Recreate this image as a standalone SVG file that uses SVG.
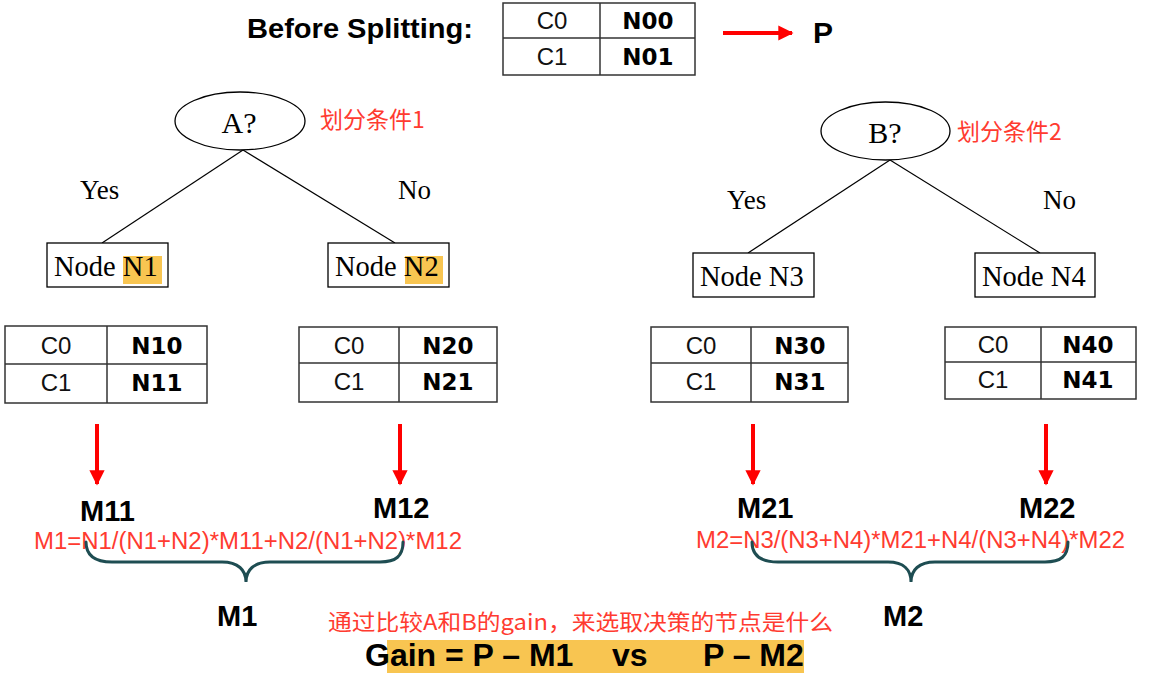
<svg xmlns="http://www.w3.org/2000/svg" width="1154" height="682" viewBox="0 0 1154 682">
<style>
.bg{fill:#ffffff}
.tbl{fill:#ffffff;stroke:#333333;stroke-width:1.5}
.tl{stroke:#333333;stroke-width:1.5}
.reg{font-family:"Liberation Sans",Arial,sans-serif;font-size:24px;fill:#111111;text-anchor:middle}
.bld{font-family:"DejaVu Sans",Verdana,sans-serif;font-weight:bold;font-size:23px;fill:#000000;text-anchor:middle}
.times{font-family:"Liberation Serif","Times New Roman",serif;fill:#000000}
.box{fill:#ffffff;stroke:#000000;stroke-width:1.3}
.ell{fill:#ffffff;stroke:#000000;stroke-width:1.3}
.edge{stroke:#000000;stroke-width:1.2;fill:none}
.redtxt{font-family:"Noto Sans CJK SC","Liberation Sans",sans-serif;fill:#ff3b30}
.formula{font-family:"Liberation Sans",Arial,sans-serif;font-size:23.5px;fill:#ff3b30}
.mlab{font-family:"Liberation Sans",Arial,sans-serif;font-weight:bold;font-size:29px;fill:#000000}
.big{font-family:"Liberation Sans",Arial,sans-serif;font-weight:bold;fill:#000000}
.brace{fill:none;stroke:#1e4d52;stroke-width:3;stroke-linecap:round}
.hl{fill:#f8c551}
</style>
<defs>
<marker id="ah" viewBox="0 0 10 10" refX="9" refY="5" markerWidth="3.8" markerHeight="3.8" orient="auto" markerUnits="strokeWidth">
<path d="M0,0 L10,5 L0,10 Z" fill="#ff0000"/>
</marker>
</defs>
<rect class="bg" x="0" y="0" width="1154" height="682"/>

<g id="before">
<text class="big" x="247" y="38" font-size="28" textLength="226" lengthAdjust="spacingAndGlyphs">Before Splitting:</text>
<rect class="tbl" x="503" y="3" width="192" height="72"/>
<line class="tl" x1="503" y1="38" x2="695" y2="38"/>
<line class="tl" x1="600" y1="3" x2="600" y2="75"/>
<text class="reg" x="552" y="29">C0</text>
<text class="reg" x="552" y="65">C1</text>
<text class="bld" x="648" y="29">N00</text>
<text class="bld" x="648" y="65">N01</text>
</g>
<g id="P">
<text class="big" x="813" y="43" font-size="30">P</text>
</g>

<g id="connectors">
<line class="edge" x1="243" y1="150" x2="102" y2="243"/>
<line class="edge" x1="243" y1="150" x2="395" y2="243"/>
<line class="edge" x1="890" y1="160" x2="748" y2="253"/>
<line class="edge" x1="890" y1="160" x2="1040" y2="253"/>
<line x1="723" y1="33" x2="792" y2="33" stroke="#ff0000" stroke-width="4" marker-end="url(#ah)"/>
<line x1="97" y1="424" x2="97" y2="484" stroke="#ff0000" stroke-width="4" marker-end="url(#ah)"/>
<line x1="400" y1="424" x2="400" y2="484" stroke="#ff0000" stroke-width="4" marker-end="url(#ah)"/>
<line x1="753" y1="424" x2="753" y2="484" stroke="#ff0000" stroke-width="4" marker-end="url(#ah)"/>
<line x1="1046" y1="424" x2="1046" y2="484" stroke="#ff0000" stroke-width="4" marker-end="url(#ah)"/>
<text class="times" x="80" y="199" font-size="27">Yes</text>
<text class="times" x="398" y="199" font-size="27">No</text>
<text class="times" x="727" y="209" font-size="27">Yes</text>
<text class="times" x="1043" y="209" font-size="27">No</text>
</g>

<g id="nodeA">
<ellipse class="ell" cx="240" cy="121" rx="65" ry="29"/>
<text class="times" x="239" y="133" text-anchor="middle" font-size="30">A?</text>
<text class="redtxt" x="320" y="128" font-size="23">划分条件1</text>
</g>
<g id="nodeB">
<ellipse class="ell" cx="885.5" cy="131" rx="64.5" ry="29"/>
<text class="times" x="885" y="143" text-anchor="middle" font-size="30">B?</text>
<text class="redtxt" x="957" y="140" font-size="23">划分条件2</text>
</g>

<g id="nodeN1">
<rect class="box" x="47" y="243" width="121" height="44"/>
<rect class="hl" x="123" y="256" width="39" height="28"/>
<text class="times" x="54" y="276" font-size="28.5">Node N1</text>
</g>
<g id="nodeN2">
<rect class="box" x="328" y="243" width="121" height="44"/>
<rect class="hl" x="405" y="256" width="38" height="28"/>
<text class="times" x="335" y="276" font-size="28.5">Node N2</text>
</g>
<g id="nodeN3">
<rect class="box" x="693" y="253" width="121" height="44"/>
<text class="times" x="700" y="286" font-size="28.5">Node N3</text>
</g>
<g id="nodeN4">
<rect class="box" x="975" y="253" width="120" height="44"/>
<text class="times" x="982" y="286" font-size="28.5">Node N4</text>
</g>

<g id="table1">
<rect class="tbl" x="5" y="326" width="202" height="77"/>
<line class="tl" x1="5" y1="364" x2="207" y2="364"/>
<line class="tl" x1="107" y1="326" x2="107" y2="403"/>
<text class="reg" x="56" y="354">C0</text>
<text class="reg" x="56" y="391">C1</text>
<text class="bld" x="157" y="354">N10</text>
<text class="bld" x="157" y="391">N11</text>
</g>
<g id="table2">
<rect class="tbl" x="299" y="327" width="198" height="75"/>
<line class="tl" x1="299" y1="363" x2="497" y2="363"/>
<line class="tl" x1="399" y1="327" x2="399" y2="402"/>
<text class="reg" x="349" y="354">C0</text>
<text class="reg" x="349" y="390">C1</text>
<text class="bld" x="448" y="354">N20</text>
<text class="bld" x="448" y="390">N21</text>
</g>
<g id="table3">
<rect class="tbl" x="651" y="327" width="197" height="75"/>
<line class="tl" x1="651" y1="363" x2="848" y2="363"/>
<line class="tl" x1="751" y1="327" x2="751" y2="402"/>
<text class="reg" x="701" y="354">C0</text>
<text class="reg" x="701" y="390">C1</text>
<text class="bld" x="800" y="354">N30</text>
<text class="bld" x="800" y="390">N31</text>
</g>
<g id="table4">
<rect class="tbl" x="945" y="327" width="191" height="72"/>
<line class="tl" x1="945" y1="362" x2="1136" y2="362"/>
<line class="tl" x1="1041" y1="327" x2="1041" y2="399"/>
<text class="reg" x="993" y="353">C0</text>
<text class="reg" x="993" y="388">C1</text>
<text class="bld" x="1088" y="353">N40</text>
<text class="bld" x="1088" y="388">N41</text>
</g>

<g id="M11"><text class="mlab" x="80" y="521">M11</text></g>
<g id="M12"><text class="mlab" x="373" y="518">M12</text></g>
<g id="M21"><text class="mlab" x="737" y="518">M21</text></g>
<g id="M22"><text class="mlab" x="1019" y="518">M22</text></g>

<g id="formula1">
<text class="formula" x="34" y="549" textLength="428" lengthAdjust="spacingAndGlyphs">M1=N1/(N1+N2)*M11+N2/(N1+N2)*M12</text>
<path class="brace" d="M86,542 C86,556 96,562 112,562 L222,562 C238,562 246,570 246,582 C246,570 254,562 270,562 L380,562 C396,562 403,556 403,542"/>
</g>
<g id="formula2">
<text class="formula" x="696" y="548" textLength="429" lengthAdjust="spacingAndGlyphs">M2=N3/(N3+N4)*M21+N4/(N3+N4)*M22</text>
<path class="brace" d="M752,542 C752,556 762,562 778,562 L888,562 C904,562 911,570 911,582 C911,570 919,562 935,562 L1045,562 C1061,562 1068,556 1068,542"/>
</g>

<g id="M1"><text class="mlab" x="217" y="626">M1</text></g>
<g id="M2"><text class="mlab" x="883" y="626">M2</text></g>

<g id="note">
<text class="redtxt" x="328" y="630" font-size="22" textLength="505" lengthAdjust="spacingAndGlyphs">通过比较A和B的gain，来选取决策的节点是什么</text>
</g>

<g id="gain">
<rect class="hl" x="387" y="640" width="417" height="33"/>
<text class="big" x="365" y="666" font-size="32">Gain = P – M1</text>
<text class="big" x="612" y="666" font-size="32">vs</text>
<text class="big" x="703" y="666" font-size="32">P – M2</text>
</g>
</svg>
